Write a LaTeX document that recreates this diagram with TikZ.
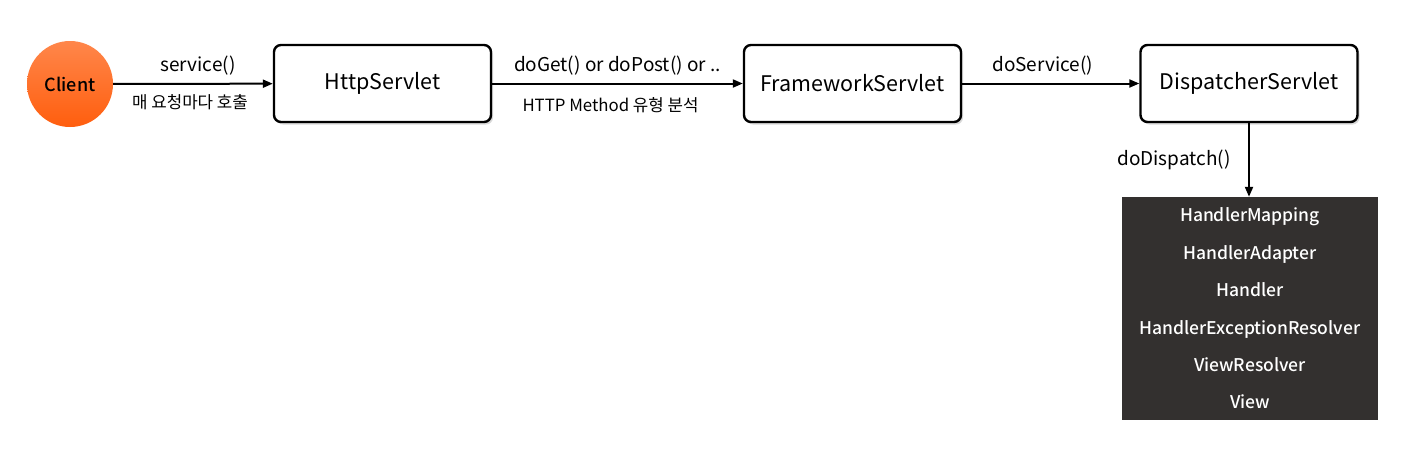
\documentclass[tikz,border=0pt]{standalone}
\usepackage{fontspec}
\setmainfont{Noto Sans CJK KR}
\newfontfamily\medfont{Noto Sans CJK KR Medium}
\usetikzlibrary{positioning, arrows.meta, shadows}

\definecolor{clientorange}{HTML}{FF5E0E}
\definecolor{panelgray}{HTML}{33302F}

\tikzset{
  servlet/.style={draw, line width=2.4pt, rounded corners=7pt, fill=white,
    minimum width=217pt, minimum height=77pt, font=\fontsize{21.5}{25}\selectfont,
    drop shadow={shadow xshift=2pt, shadow yshift=-2.5pt, opacity=0.3}},
  client/.style={circle, minimum size=86pt, inner sep=0pt,
    top color=clientorange!75!white, bottom color=clientorange,
    font=\fontsize{18}{20}\selectfont\medfont},
  panel/.style={fill=panelgray, text=white, minimum width=256pt, minimum height=223pt,
    align=center, font=\fontsize{17.5}{37.4}\selectfont\medfont},
  call/.style={-{Triangle[length=10pt,width=8pt]}, line width=2pt},
  lbl/.style={font=\fontsize{19}{22}\selectfont},
  note/.style={font=\fontsize{16.8}{19}\selectfont},
}

\begin{document}
\begin{tikzpicture}[x=1pt, y=-1pt]
  \useasboundingbox (0,0) rectangle (1405,451);

  % Client
  \node[client] (client) at (70,84) {Client};

  % Servlet chain
  \node[servlet] (http) at (382.5,83.5) {HttpServlet};
  \node[servlet] (fw) at (852.5,83.5) {FrameworkServlet};
  \node[servlet] (ds) at (1249,83.5) {DispatcherServlet};

  % Components used by the dispatcher
  \node[panel] (comp) at (1250,308.5) {HandlerMapping\\HandlerAdapter\\Handler\\
    HandlerExceptionResolver\\ViewResolver\\View};

  % Calls
  \draw[call] (client) -- (http)
    node[midway, above=4pt, lbl, xshift=5pt] {service()}
    node[midway, below=6pt, note, xshift=-3pt] {매 요청마다 호출};
  \draw[call] (http) -- (fw)
    node[midway, above=4pt, lbl] {doGet() or doPost() or ..}
    node[midway, below=10pt, note, xshift=-7pt] {HTTP Method 유형 분석};
  \draw[call] (fw) -- (ds)
    node[midway, above=4pt, lbl, xshift=-8pt] {doService()};
  \draw[call] (ds.south) -- (ds.south |- comp.north)
    node[midway, left=14pt, lbl] {doDispatch()};
\end{tikzpicture}
\end{document}
